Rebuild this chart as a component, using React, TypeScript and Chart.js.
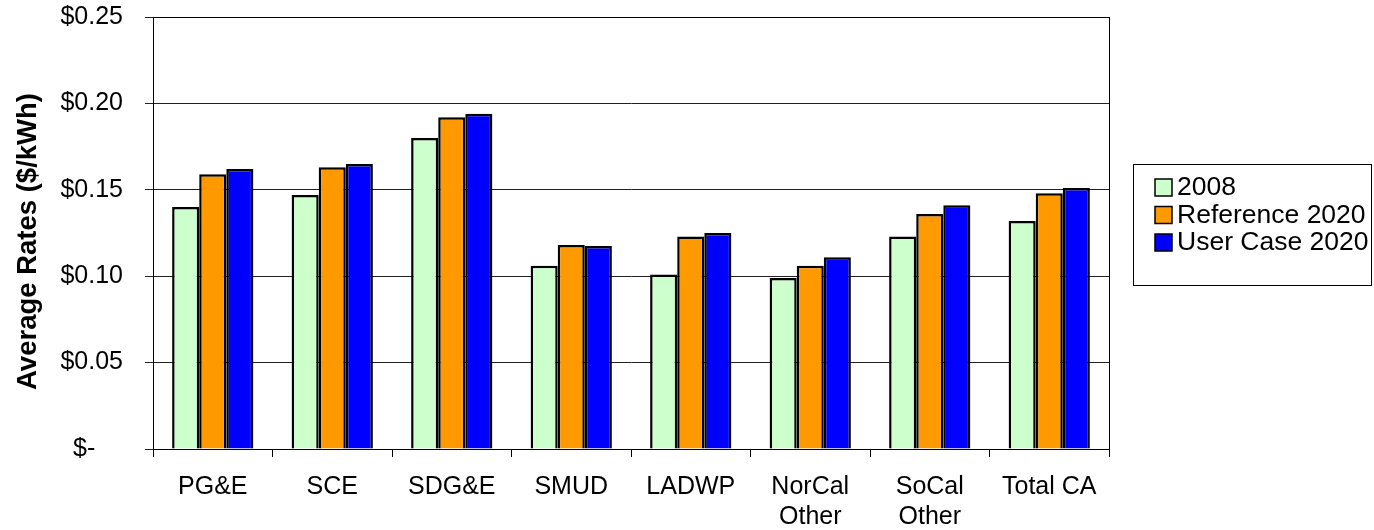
import React, { useEffect, useRef } from "react";
import { Chart, registerables } from "chart.js";

Chart.register(...registerables);

const categories: (string | string[])[] = [
  "PG&E",
  "SCE",
  "SDG&E",
  "SMUD",
  "LADWP",
  ["NorCal", "Other"],
  ["SoCal", "Other"],
  "Total CA",
];
const seriesNames = ["2008", "Reference 2020", "User Case 2020"];
const values2008 = [0.14, 0.147, 0.18, 0.106, 0.101, 0.099, 0.123, 0.132];
const valuesRef2020 = [0.159, 0.163, 0.192, 0.118, 0.123, 0.106, 0.136, 0.148];
const valuesUser2020 = [0.162, 0.165, 0.194, 0.1175, 0.125, 0.111, 0.141, 0.151];
const seriesColors = ["#CCFFCC", "#FF9900", "#0000FF"];
const yTickValues = [0, 0.05, 0.1, 0.15, 0.2, 0.25];
const yTickLabels = ["$-    ", "$0.05", "$0.10", "$0.15", "$0.20", "$0.25"];
const yTitle = "Average Rates ($/kWh)";

const FONT = "'Liberation Sans', Arial, sans-serif";

const frameAndLegend = {
  id: "frameAndLegend",
  afterDraw(chart: any) {
    const { ctx, chartArea } = chart;
    ctx.save();
    ctx.strokeStyle = "#000";
    ctx.lineWidth = 1;
    ctx.strokeRect(
      Math.round(chartArea.left) + 0.5,
      Math.round(chartArea.top) + 0.5,
      Math.round(chartArea.right - chartArea.left),
      Math.round(chartArea.bottom - chartArea.top)
    );
    // y axis title
    ctx.save();
    ctx.translate(28, 241.5);
    ctx.rotate(-Math.PI / 2);
    ctx.font = `bold 27.5px ${FONT}`;
    ctx.fillStyle = "#000";
    ctx.textAlign = "center";
    ctx.textBaseline = "middle";
    ctx.fillText(yTitle, 0, 0);
    ctx.restore();
    // legend
    const bx = 1133.5, by = 164.5, bw = 238, bh = 121;
    ctx.strokeStyle = "#000";
    ctx.lineWidth = 1;
    ctx.strokeRect(bx, by, bw, bh);
    ctx.font = `26.5px ${FONT}`;
    ctx.textBaseline = "middle";
    ctx.textAlign = "left";
    chart.data.datasets.forEach((ds: any, i: number) => {
      const cy = 187 + i * 27.5;
      ctx.fillStyle = ds.backgroundColor;
      ctx.fillRect(1155, cy - 8, 17, 17);
      ctx.lineWidth = 1.5;
      ctx.strokeRect(1155, cy - 8, 17, 17);
      ctx.fillStyle = "#000";
      ctx.fillText(ds.label, 1177, cy + 1);
    });
    ctx.restore();
  },
};

export default function App() {
  const ref = useRef<HTMLCanvasElement>(null);
  useEffect(() => {
    document.body.style.margin = "0";
    const makeDs = (label: string, data: number[], color: string) => ({
      label,
      data,
      backgroundColor: color,
      borderColor: "#000",
      borderWidth: 2.5,
      borderSkipped: "bottom",
      categoryPercentage: 0.68,
      barPercentage: 1.0,
    });
    const chart = new Chart(ref.current!, {
      type: "bar",
      data: {
        labels: categories,
        datasets: [
          makeDs(seriesNames[0], values2008, seriesColors[0]),
          makeDs(seriesNames[1], valuesRef2020, seriesColors[1]),
          makeDs(seriesNames[2], valuesUser2020, seriesColors[2]),
        ],
      },
      options: {
        animation: false,
        responsive: false,
        devicePixelRatio: 1,
        layout: { padding: { left: 0, right: 265, top: 17, bottom: 0 } },
        plugins: {
          legend: { display: false },
          tooltip: { enabled: false },
        },
        scales: {
          x: {
            grid: {
              offset: true,
              drawOnChartArea: false,
              drawTicks: true,
              tickLength: 8,
              color: "#000",
            },
            border: { color: "#000", width: 1 },
            ticks: {
              color: "#000",
              font: { family: FONT, size: 25 },
              maxRotation: 0,
              autoSkip: false,
              padding: 15,
            },
            afterFit(scale: any) {
              scale.height = 81;
              scale.paddingLeft = 0;
              scale.paddingRight = 0;
            },
          },
          y: {
            min: 0,
            max: 0.25,
            afterBuildTicks(scale: any) {
              scale.ticks = yTickValues.map((v) => ({ value: v }));
            },
            ticks: {
              color: "#000",
              font: { family: FONT, size: 25 },
              padding: 22,
              callback: (v: any) => {
                const i = yTickValues.findIndex((t) => Math.abs(t - v) < 1e-9);
                return i >= 0 ? yTickLabels[i] : "";
              },
            },
            grid: {
              color: "#222",
              lineWidth: 1,
              drawTicks: true,
              tickLength: 8,
            },
            border: { color: "#000", width: 1 },
            afterFit(scale: any) {
              scale.width = 153;
              scale.paddingTop = 0;
              scale.paddingBottom = 0;
            },
          },
        },
      },
      plugins: [frameAndLegend],
    });
    return () => chart.destroy();
  }, []);
  return (
    <div style={{ width: 1374, height: 530 }}>
      <canvas ref={ref} width={1374} height={530} style={{ display: "block" }} />
    </div>
  );
}
